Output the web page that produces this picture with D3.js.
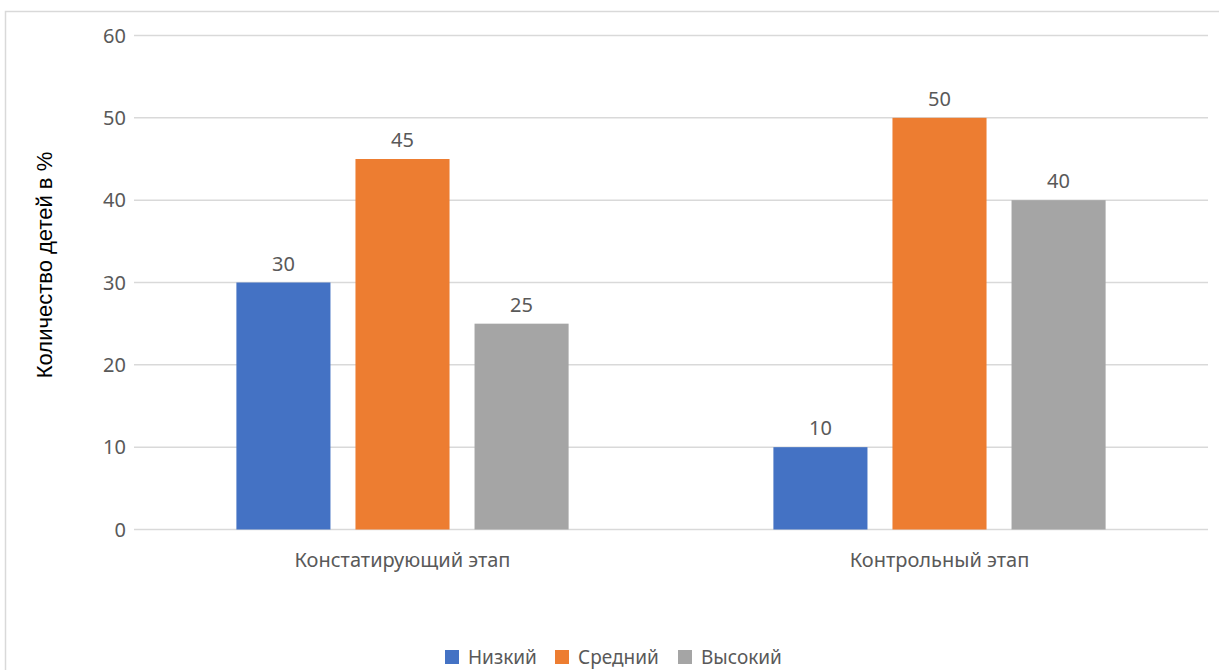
<!DOCTYPE html>
<html>
<head>
<meta charset="utf-8">
<script src="https://d3js.org/d3.v7.min.js"></script>
<style>
  body { margin: 0; background: #fff; }
  svg text { font-family: "Noto Sans", sans-serif; fill: #595959; }
</style>
</head>
<body>
<svg id="chart" width="1219" height="670"></svg>
<script>
var categories = ["Констатирующий этап", "Контрольный этап"];
var seriesNames = ["Низкий", "Средний", "Высокий"];
var seriesColors = ["#4472c4", "#ed7d31", "#a5a5a5"];
var lowValues = [30, 10];
var midValues = [45, 50];
var highValues = [25, 40];
var yTicks = [0, 10, 20, 30, 40, 50, 60];

var seriesValues = [lowValues, midValues, highValues];

var svg = d3.select("#chart");

// chart border
svg.append("rect")
  .attr("x", 5.5).attr("y", 11.5)
  .attr("width", 1230).attr("height", 700)
  .attr("fill", "none").attr("stroke", "#d9d9d9").attr("stroke-width", 1.5);

var plotLeft = 134, plotRight = 1208, plotTop = 35.5, plotBottom = 529.5;

var y = d3.scaleLinear().domain([0, 60]).range([plotBottom, plotTop]);
var x0 = d3.scaleBand().domain(categories).range([plotLeft, plotRight]);
var x1 = d3.scaleBand().domain(seriesNames).range([0, x0.bandwidth()])
  .paddingInner(0.21).paddingOuter(0.86);

// gridlines
svg.append("g").selectAll("line")
  .data(yTicks)
  .join("line")
  .attr("x1", plotLeft).attr("x2", plotRight)
  .attr("y1", function (d) { return y(d); })
  .attr("y2", function (d) { return y(d); })
  .attr("stroke", "#d9d9d9").attr("stroke-width", 1.5);

// y tick labels
svg.append("g").selectAll("text")
  .data(yTicks)
  .join("text")
  .attr("x", 126)
  .attr("y", function (d) { return y(d); })
  .attr("dy", "0.36em")
  .attr("text-anchor", "end")
  .attr("font-size", 20)
  .text(function (d) { return d; });

// bars
var groups = svg.append("g").selectAll("g")
  .data(categories)
  .join("g")
  .attr("transform", function (d) { return "translate(" + x0(d) + ",0)"; });

groups.selectAll("rect")
  .data(function (d, i) {
    return seriesNames.map(function (s, j) { return { s: s, v: seriesValues[j][i], c: seriesColors[j] }; });
  })
  .join("rect")
  .attr("x", function (d) { return x1(d.s); })
  .attr("width", x1.bandwidth())
  .attr("y", function (d) { return y(d.v); })
  .attr("height", function (d) { return plotBottom - y(d.v); })
  .attr("fill", function (d) { return d.c; });

groups.selectAll("text")
  .data(function (d, i) {
    return seriesNames.map(function (s, j) { return { s: s, v: seriesValues[j][i] }; });
  })
  .join("text")
  .attr("x", function (d) { return x1(d.s) + x1.bandwidth() / 2; })
  .attr("y", function (d) { return y(d.v) - 12; })
  .attr("text-anchor", "middle")
  .attr("font-size", 20)
  .text(function (d) { return d.v; });

// category labels
svg.append("g").selectAll("text")
  .data(categories)
  .join("text")
  .attr("x", function (d) { return x0(d) + x0.bandwidth() / 2; })
  .attr("y", 567)
  .attr("text-anchor", "middle")
  .attr("font-size", 20)
  .text(function (d) { return d; });

// y axis title
svg.append("text")
  .attr("transform", "translate(52,265) rotate(-90)")
  .attr("text-anchor", "middle")
  .attr("font-size", 22)
  .style("font-family", "'Liberation Sans', Arial, sans-serif")
  .style("fill", "#000")
  .text("Количество детей в %");

// legend
var legendX = [445, 555, 678];
var legend = svg.append("g").selectAll("g")
  .data(seriesNames)
  .join("g")
  .attr("transform", function (d, i) { return "translate(" + legendX[i] + ",650)"; });
legend.append("rect")
  .attr("width", 14).attr("height", 14)
  .attr("fill", function (d, i) { return seriesColors[i]; });
legend.append("text")
  .attr("x", 23).attr("y", 7)
  .attr("dy", "0.36em")
  .attr("font-size", 19)
  .text(function (d) { return d; });
</script>
</body>
</html>
